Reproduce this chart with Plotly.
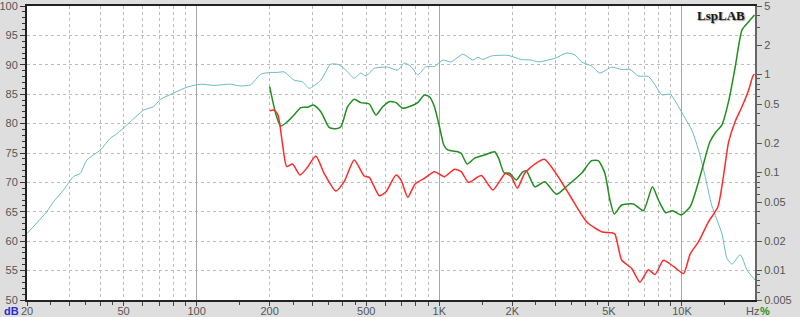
import math
import plotly.graph_objects as go

# ---------------- data ----------------
spl_freq = [20, 24.1, 25.7, 28.3, 31.1, 33.1, 35.3, 40.1, 44.1, 47.0, 53.3, 60.5, 66.5, 70.9, 80.5,
            91.4, 103.7, 117.7, 138, 151.8, 167, 183.6, 201.9, 215, 229, 252, 273, 291, 325, 357,
            387, 419, 446, 475, 499, 540, 613, 674, 718, 765, 815, 883, 955, 1034, 1120, 1251,
            1376, 1443, 1513, 1638, 1920, 2179, 2396, 2554, 2991, 3342, 3617, 3856, 4242, 4590,
            5132, 5643, 6106, 6614, 7274, 7745, 8257, 8933, 9677, 10304, 10984, 11706, 12466,
            13287, 14608, 15322, 16069, 17392, 18535, 20000]
spl_db = [61.3, 65.0, 66.7, 68.7, 71.0, 71.5, 73.8, 75.5, 77.5, 78.3, 80.3, 82.3, 82.9, 84.1, 85.2,
          86.2, 86.7, 86.5, 86.7, 86.4, 86.6, 88.4, 88.7, 88.7, 88.8, 87.4, 87.1, 86.0, 87.4, 90.1,
          90.0, 88.8, 87.7, 88.6, 88.1, 89.4, 89.6, 89.1, 90.3, 89.7, 88.3, 89.7, 89.7, 90.8, 90.5, 91.8,
          90.8, 91.3, 90.9, 91.5, 91.6, 90.9, 90.8, 90.5, 91.1, 92.0, 91.7, 90.5, 89.8, 88.6,
          89.6, 89.2, 89.2, 88.1, 88.0, 86.6, 84.9, 85.0, 82.9, 80.9, 78.9, 75.5, 71.0,
          66.0, 61.3, 57.1, 56.1, 57.7, 55.1, 53.4]

h2_freq = [200, 211.6, 222, 236.7, 252, 268.6, 286.3, 303.2, 325, 351.6, 374.8, 393, 419, 446, 475,
           514.5, 548.3, 584.5, 622.3, 663.3, 706.8, 765, 815, 868.5, 910.9, 955, 1001.8, 1044, 1084,
           1192, 1231, 1303, 1398, 1537, 1690, 1756, 1848, 1949, 2078, 2200, 2285, 2474, 2720, 3040,
           3398, 3856, 4242, 4520, 4812, 5049, 5265, 5643, 6308, 6936, 7557, 8000, 8577, 9140, 9924,
           10806, 11332, 12078, 13032, 13800, 14608, 15618, 16582, 17670, 18836, 19900]
h2_pct = [0.751, 0.402, 0.298, 0.330, 0.386, 0.459, 0.463, 0.489, 0.417, 0.289, 0.280, 0.293, 0.469,
          0.558, 0.516, 0.500, 0.386, 0.469, 0.528, 0.516, 0.452, 0.477, 0.516, 0.618, 0.593, 0.469,
          0.293, 0.191, 0.170, 0.163, 0.157, 0.122, 0.140, 0.151, 0.163, 0.140, 0.0995, 0.0982, 0.0838,
          0.101, 0.104, 0.0716, 0.0806, 0.0599, 0.0746, 0.0982, 0.132, 0.132, 0.0982, 0.0524, 0.0377,
          0.0466, 0.0477, 0.0408, 0.0716, 0.0524, 0.0389, 0.0408, 0.0368, 0.0447, 0.0614, 0.106, 0.205,
          0.259, 0.305, 0.550, 1.20, 2.84, 3.46, 4.05]

h3_freq = [200, 208.3, 216.4, 225.7, 235.1, 248.2, 266.8, 286.3, 309.9, 335.3, 374.8, 405.5, 446,
           490.6, 514.5, 566, 603.3, 663.3, 695.6, 741.3, 794.6, 868.5, 955, 1050, 1155, 1231, 1320,
           1489, 1664, 1871, 1981, 2098, 2248, 2474, 2720, 3090, 3506, 4044, 4665, 5132, 5294, 5643,
           6205, 6715, 7274, 7745, 8390, 9227, 10150, 10806, 11706, 12874, 14068, 14747, 15572, 16536,
           17670, 18836, 19606, 19900]
h3_pct = [0.427, 0.434, 0.386, 0.199, 0.115, 0.122, 0.0943, 0.113, 0.147, 0.0982, 0.0648, 0.0806,
          0.134, 0.0921, 0.0893, 0.058, 0.0637, 0.0943, 0.0838, 0.0558, 0.0764, 0.0873, 0.102, 0.0906,
          0.108, 0.102, 0.0794, 0.0932, 0.0663, 0.0977, 0.0906, 0.069, 0.0982, 0.122, 0.136, 0.0906,
          0.0546, 0.0315, 0.0249, 0.0243, 0.0236, 0.0128, 0.0105, 0.0076, 0.0102, 0.0091, 0.0127,
          0.011, 0.0093, 0.0147, 0.0197, 0.0315, 0.0447, 0.0838, 0.205, 0.328, 0.469, 0.695, 0.965, 1.01]

x_grid_vals = [20, 30, 40, 50, 60, 70, 80, 90, 100, 200, 300, 400, 500, 600, 700, 800, 900,
               1000, 2000, 3000, 4000, 5000, 6000, 7000, 8000, 9000, 10000]
x_labels = {20: "20", 50: "50", 100: "100", 200: "200", 500: "500",
            1000: "1K", 2000: "2K", 5000: "5K", 10000: "10K"}
x_minor_ticks = [25, 35, 45, 150, 250, 350, 450, 1500, 2500, 3500, 4500, 15000]
x_decades = [100, 1000, 10000]
y_ticks = [50, 55, 60, 65, 70, 75, 80, 85, 90, 95, 100]
pct_ticks = [0.005, 0.01, 0.02, 0.05, 0.1, 0.2, 0.5, 1, 2, 5]
pct_labels = ["0.005", "0.01", "0.02", "0.05", "0.1", "0.2", "0.5", "1", "2", "5"]
pct_minor = [0.006, 0.007, 0.008, 0.009, 0.03, 0.04, 0.06, 0.07, 0.08, 0.09,
             0.3, 0.4, 0.6, 0.7, 0.8, 0.9, 3, 4]

FONT = "Liberation Sans, Arial, sans-serif"

fig = go.Figure()
fig.add_trace(go.Scatter(x=spl_freq, y=spl_db, mode="lines", xaxis="x", yaxis="y",
                         line=dict(color="#66bcbf", width=1, shape="spline", smoothing=0.6),
                         hoverinfo="skip"))
fig.add_trace(go.Scatter(x=h2_freq, y=h2_pct, mode="lines", xaxis="x", yaxis="y2",
                         line=dict(color="#1f8f1f", width=1.5, shape="spline", smoothing=0.6),
                         hoverinfo="skip"))
fig.add_trace(go.Scatter(x=h3_freq, y=h3_pct, mode="lines", xaxis="x", yaxis="y2",
                         line=dict(color="#ff2a2a", width=1.5, shape="spline", smoothing=0.6),
                         hoverinfo="skip"))
# empty trace to activate the overlay axis carrying the decade grid lines
fig.add_trace(go.Scatter(x=[], y=[], xaxis="x2", yaxis="y", hoverinfo="skip"))

xr = [math.log10(20), math.log10(20000)]

fig.update_layout(
    width=800, height=317,
    margin=dict(l=27, r=45, t=6, b=17, pad=0),
    paper_bgcolor="#dedede", plot_bgcolor="#ffffff",
    showlegend=False,
    xaxis=dict(
        type="log", range=xr, automargin=False, ticklabeloverflow="allow",
        tickmode="array", tickvals=x_grid_vals,
        ticktext=[x_labels.get(v, "") for v in x_grid_vals],
        ticks="outside", ticklen=4, tickcolor="#444", tickwidth=1,
        ticklabelstandoff=-4,
        tickfont=dict(family=FONT, size=11, color="#555"),
        showgrid=True, gridcolor="#bcbcbc", griddash="dot", gridwidth=1,
        minor=dict(tickmode="array", tickvals=x_minor_ticks, ticks="outside", ticklen=3,
                   tickcolor="#444", showgrid=False),
        showline=True, linecolor="#222", linewidth=2, mirror=True,
        zeroline=False, fixedrange=True,
    ),
    xaxis2=dict(
        type="log", range=xr, overlaying="x", anchor="y", automargin=False,
        tickmode="array", tickvals=x_decades, showticklabels=False, ticks="",
        showgrid=True, gridcolor="#a8a8a8", gridwidth=1, griddash="solid",
        showline=False, zeroline=False,
    ),
    yaxis=dict(
        range=[50, 100], tickmode="array", tickvals=y_ticks, automargin=False,
        ticklabeloverflow="allow",
        ticks="outside", ticklen=5, tickcolor="#333", tickwidth=1,
        tickfont=dict(family=FONT, size=11, color="#555"),
        minor=dict(dtick=1, ticks="outside", ticklen=3, tickcolor="#333", showgrid=False),
        showgrid=True, gridcolor="#bcbcbc", griddash="dot", gridwidth=1,
        showline=True, linecolor="#222", linewidth=2,
        zeroline=False,
    ),
    yaxis2=dict(
        type="log", range=[math.log10(0.005), math.log10(5)], automargin=False,
        ticklabeloverflow="allow",
        overlaying="y", side="right", anchor="x",
        tickmode="array", tickvals=pct_ticks, ticktext=pct_labels,
        ticks="outside", ticklen=5, tickcolor="#555", tickwidth=1,
        tickfont=dict(family=FONT, size=11, color="#555"),
        minor=dict(tickmode="array", tickvals=pct_minor, ticks="outside", ticklen=3,
                   tickcolor="#555", showgrid=False),
        showgrid=False, showline=True, linecolor="#666", linewidth=2,
        zeroline=False,
    ),
    annotations=[
        dict(text="<b>LspLAB</b>", xref="paper", yref="paper", x=0.989, y=0.969,
             xanchor="right", yanchor="middle", showarrow=False,
             font=dict(family="Liberation Serif, Times New Roman, serif", size=13, color="#1a1a1a",
                       shadow="1px 1px 1px #999")),
        dict(text="<b>dB</b>", xref="paper", yref="paper", x=-0.008, y=-0.037,
             xanchor="right", yanchor="middle", showarrow=False,
             font=dict(family=FONT, size=11, color="#2a2ad0")),
        dict(text="Hz", xref="paper", yref="paper", x=0.996, y=-0.037,
             xanchor="center", yanchor="middle", showarrow=False,
             font=dict(family=FONT, size=11, color="#555")),
        dict(text="<b>%</b>", xref="paper", yref="paper", x=1.014, y=-0.037,
             xanchor="center", yanchor="middle", showarrow=False,
             font=dict(family=FONT, size=11, color="#1f8f1f")),
    ],
)

fig.write_html("out.html")
